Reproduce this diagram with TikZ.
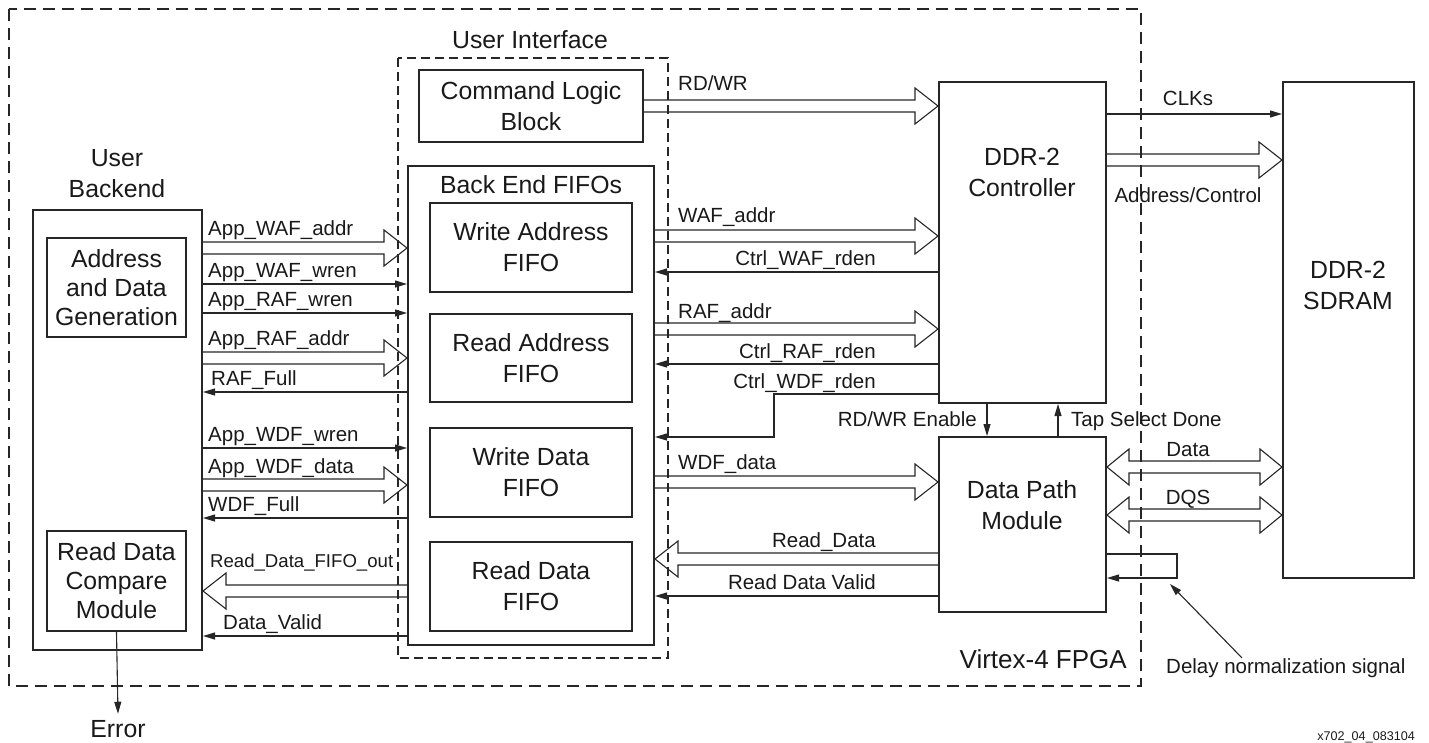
\documentclass[tikz,border=0pt]{standalone}
\usepackage{fontspec}
\setmainfont{Liberation Sans}
\usetikzlibrary{
	arrows.meta,
	calc,
	positioning
}

\begin{document}
\begin{tikzpicture}[x=1pt, y=-1pt,
    box/.style={draw=black!85, line width=2pt, inner sep=0pt, align=center, text=black!90,
        font=\fontsize{24.8}{31}\selectfont},
    txt/.style={inner sep=0pt, align=center, text=black!90, font=\fontsize{24.8}{31}\selectfont},
    lbl/.style={inner sep=0pt, text=black!90, font=\fontsize{20.5}{24}\selectfont},
    sig/.style={draw=black!85, line width=1.1pt, -{Triangle[length=12pt,width=7pt]}},
    wire/.style={draw=black!85, line width=1.1pt, line join=miter},
    region/.style={draw=black!85, line width=1.2pt, dash pattern=on 12pt off 7pt}]

\useasboundingbox (0,0) rectangle (1429,742);

% Helper macro for a wide (bus) arrow
% Arguments: start point, tip point (same height)
\def\wide#1#2{
    \draw[wire] let \p1=(#1), \p2=(#2), \n1={ifthenelse(\x2>\x1,1,-1)} in
        (\x1,\y1+6pt) -- (\x2-\n1*23pt,\y1+6pt) -- (\x2-\n1*23pt,\y1+18pt) -- (\x2,\y1)
        -- (\x2-\n1*23pt,\y1-18pt) -- (\x2-\n1*23pt,\y1-6pt) -- (\x1,\y1-6pt);
}
% Helper macro for a wide arrow with two heads
% Arguments: left tip, right tip
\def\widedbl#1#2{
    \draw[wire] let \p1=(#1), \p2=(#2) in
        (\x1,\y1) -- (\x1+22pt,\y1+18pt) -- (\x1+22pt,\y1+6pt) -- (\x2-22pt,\y1+6pt)
        -- (\x2-22pt,\y1+18pt) -- (\x2,\y1) -- (\x2-22pt,\y1-18pt) -- (\x2-22pt,\y1-6pt)
        -- (\x1+22pt,\y1-6pt) -- (\x1+22pt,\y1-18pt) -- cycle;
}

% Regions
\draw[region] (9,9) rectangle (1141,686);
\draw[region, dash pattern=on 9pt off 5pt] (398,58) rectangle (668,658);
\node[txt, anchor=base] (uilab) at (530,48) {User Interface};
\node[txt, anchor=base east, font=\fontsize{26}{31}\selectfont] (fpgalab) at (1127,668) {Virtex-4 FPGA};

% User backend
\node[txt] (ublab) at (117,174) {User\\Backend};
\node[box, minimum width=169pt, minimum height=440pt] (ub) at (117.5,430) {};
\node[box, minimum width=139pt, minimum height=99pt, font=\fontsize{24.8}{29}\selectfont]
    (adg) at (116.5,287.5) {Address\\and Data\\Generation};
\node[box, minimum width=139pt, minimum height=100pt, font=\fontsize{24.8}{29}\selectfont]
    (rdc) at (116.5,581) {Read Data\\Compare\\Module};
\node[txt, anchor=base] (err) at (118,737) {Error};

% User interface
\node[box, minimum width=224pt, minimum height=72pt] (clb) at (531,106) {Command Logic\\Block};
\node[box, minimum width=246pt, minimum height=479pt] (bef) at (531,405.5) {};
\node[txt, anchor=base] (beflab) at (531,193) {Back End FIFOs};
\node[box, minimum width=202pt, minimum height=89pt] (waf) at (531,247.5) {Write Address\\FIFO};
\node[box, minimum width=202pt, minimum height=88pt] (raf) at (531,358) {Read Address\\FIFO};
\node[box, minimum width=202pt, minimum height=89pt] (wdf) at (531,472.5) {Write Data\\FIFO};
\node[box, minimum width=202pt, minimum height=89pt] (rdf) at (531,586.5) {Read Data\\FIFO};

% Controller, data path and memory
\node[box, minimum width=167pt, minimum height=321pt] (ctrl) at (1022.5,242.5) {};
\node[txt] (ctrllab) at (1022,172) {DDR-2\\Controller};
\node[box, minimum width=167pt, minimum height=175pt] (dpm) at (1022.5,524.5) {};
\node[txt] (dpmlab) at (1022,505) {Data Path\\Module};
\node[box, minimum width=131pt, minimum height=496pt] (sdram) at (1348.5,330) {};
\node[txt] (sdramlab) at (1348,285) {DDR-2\\SDRAM};

% User backend <-> back end FIFOs
\wide{ub.east |- 0,248}{bef.west |- 0,248}
\draw[sig] (ub.east |- 0,284) -- (bef.west |- 0,284);
\draw[sig] (ub.east |- 0,313) -- (bef.west |- 0,313);
\wide{ub.east |- 0,358}{bef.west |- 0,358}
\draw[sig] (bef.west |- 0,392) -- (ub.east |- 0,392);
\draw[sig] (ub.east |- 0,448) -- (bef.west |- 0,448);
\wide{ub.east |- 0,485}{bef.west |- 0,485}
\draw[sig] (bef.west |- 0,518) -- (ub.east |- 0,518);
\wide{bef.west |- 0,591}{ub.east |- 0,591}
\draw[sig] (bef.west |- 0,636) -- (ub.east |- 0,636);
\draw[sig] (rdc.south) -- ([yshift=6pt]err.north);

\node[lbl, anchor=base west] at (208,235) {App\_WAF\_addr};
\node[lbl, anchor=base west] at (208,277) {App\_WAF\_wren};
\node[lbl, anchor=base west] at (208,306) {App\_RAF\_wren};
\node[lbl, anchor=base west] at (208,345) {App\_RAF\_addr};
\node[lbl, anchor=base west] at (211,385) {RAF\_Full};
\node[lbl, anchor=base west] at (208,441) {App\_WDF\_wren};
\node[lbl, anchor=base west] at (208,473) {App\_WDF\_data};
\node[lbl, anchor=base west] at (208,511) {WDF\_Full};
\node[lbl, anchor=base west, font=\fontsize{18.6}{22}\selectfont] at (210,567) {Read\_Data\_FIFO\_out};
\node[lbl, anchor=base west] at (223,629) {Data\_Valid};

% Back end FIFOs <-> controller / data path
\wide{clb.east |- 0,106}{ctrl.west |- 0,106}
\wide{bef.east |- 0,236}{ctrl.west |- 0,236}
\draw[sig] (ctrl.west |- 0,272) -- (bef.east |- 0,272);
\wide{bef.east |- 0,329}{ctrl.west |- 0,329}
\draw[sig] (ctrl.west |- 0,364) -- (bef.east |- 0,364);
\draw[sig] (ctrl.west |- 0,394) -| (774,437) -- (bef.east |- 0,437);
\wide{bef.east |- 0,482}{dpm.west |- 0,482}
\wide{dpm.west |- 0,559}{bef.east |- 0,559}
\draw[sig] (dpm.west |- 0,596) -- (bef.east |- 0,596);

\node[lbl, anchor=base west] at (678,90) {RD/WR};
\node[lbl, anchor=base west] at (678,222) {WAF\_addr};
\node[lbl, anchor=base east] at (876,265) {Ctrl\_WAF\_rden};
\node[lbl, anchor=base west] at (678,318) {RAF\_addr};
\node[lbl, anchor=base east] at (876,358) {Ctrl\_RAF\_rden};
\node[lbl, anchor=base east] at (876,388) {Ctrl\_WDF\_rden};
\node[lbl, anchor=base west] at (678,469) {WDF\_data};
\node[lbl, anchor=base east] at (876,547) {Read\_Data};
\node[lbl, anchor=base east] at (876,589) {Read Data Valid};

% Controller <-> data path
\draw[sig] (ctrl.south -| 987,0) -- (dpm.north -| 987,0);
\draw[sig] (dpm.north -| 1058,0) -- (ctrl.south -| 1058,0);
\node[lbl, anchor=base east] at (977,426) {RD/WR Enable};
\node[lbl, anchor=base west] at (1071,426) {Tap Select Done};

% To the memory
\draw[sig] (ctrl.east |- 0,114) -- (sdram.west |- 0,114);
\wide{ctrl.east |- 0,160}{sdram.west |- 0,160}
\widedbl{dpm.east |- 0,467}{sdram.west |- 0,467}
\widedbl{dpm.east |- 0,515}{sdram.west |- 0,515}
\draw[sig] (dpm.east |- 0,554) -| (1177,578) -- (dpm.east |- 0,578);
\node[lbl, anchor=base] at (1188,105) {CLKs};
\node[lbl, anchor=base] at (1188,202) {Address/Control};
\node[lbl, anchor=base] at (1188,456) {Data};
\node[lbl, anchor=base] at (1188,504) {DQS};

% Delay note
\node[lbl, anchor=base west] (dns) at (1166,673) {Delay normalization signal};
\coordinate (dtip) at (1170,584);
\draw[sig] ([xshift=76pt]dns.north west) -- (dtip);
\node[lbl, anchor=base east, font=\fontsize{12.6}{15}\selectfont] at (1415,740) {x702\_04\_083104};

\end{tikzpicture}
\end{document}
